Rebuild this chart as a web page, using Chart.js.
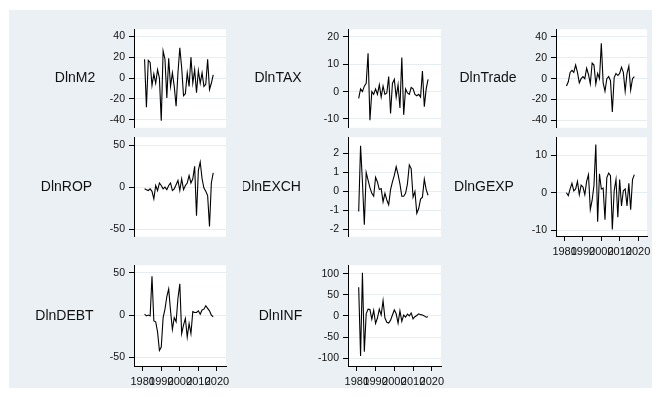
<!DOCTYPE html>
<html>
<head>
<meta charset="utf-8">
<script src="https://cdn.jsdelivr.net/npm/chart.js@4"></script>
<style>
  html, body { margin: 0; padding: 0; background: #ffffff; }
  #wrap { position: relative; width: 660px; height: 397px; overflow: hidden; background: #ffffff; }
  #bg { position: absolute; left: 9px; top: 10px; width: 643px; height: 378px; background: #eaf0f3; }
  #wrap canvas { position: absolute; }
</style>
</head>
<body>
<div id="wrap"><div id="bg"></div></div>
<script>
// Annual first differences of log series, 1981-2018
const years = [1981, 1982, 1983, 1984, 1985, 1986, 1987, 1988, 1989, 1990,
               1991, 1992, 1993, 1994, 1995, 1996, 1997, 1998, 1999, 2000,
               2001, 2002, 2003, 2004, 2005, 2006, 2007, 2008, 2009, 2010,
               2011, 2012, 2013, 2014, 2015, 2016, 2017, 2018];

const dlnM2 = [18, -28, 17, 15, -7, 4, -5, 8, 0, -41, 26, 18, -19, 19, -8, 5, -8, -27, 5, 29,
               10, -17, -15, 5, -8, 20, -5, 8, -14, 7, -5, 5, -8, -6, 18, -11, -5, 3];
const dlnTAX = [-2.5, 1, 0, 2, 3, 14, -10.5, 0, -1, 1, -1, 2.5, -2, 2, -1, -0.5, 5.5, -8, 3, 4.5,
                -2, 2.5, -6, 12.5, -8.5, 1, -0.5, -1, 1.5, 1, -1, -1.5, -1, -2, 7.5, -5.5, 1, 4.5];
const dlnTrade = [-7, -3, 6, 8, 6, 13, 6, -4, 0, 2, 0, 10, 4, -5, 15, 13, -5, 5, 0, 34,
                  -4, -12, 0, 2, -2, -32, 1, 5, 3, 5, 11, 6, -12, 5, 12, -11, 0, 2];
const dlnROP = [-2, -3, -4, -2, -5, -14, 2, -4, 5, 2, -2, 0, -3, 2, 5, -4, -2, 3, 8, -4,
                10, -3, 2, 5, 14, 5, 10, 25, -34, 20, 30, 10, -1, -5, -10, -47, 5, 17];
const dlnEXCH = [-1.05, 2.4, 0.5, -1.75, 1.0, 0.6, 0.2, -0.1, -0.25, 0.75, 0.5, 0.1, 0.15, -0.55, -0.1, -0.45, -0.7, 0.1, 0.5, 0.85,
                 1.3, 0.9, 0.4, -0.25, -0.25, -0.1, 0.4, 1.4, 1.2, -0.3, 0.0, -1.15, -0.9, -0.4, -0.3, 0.65, 0.1, -0.2];
const dlnGEXP = [0, -0.8, 1, 2.5, 0.5, 1, 3, -0.5, 2, 1.5, -0.5, 3, 4.8, -4.5, -2, 2, 12.8, -7.7, 5, 1,
                 1.2, -7.2, 4, 5.2, 4.5, -9.8, 0.5, 3.5, -6.5, 3.5, -3.5, 0.5, 1, -3.5, 2.5, -4.5, 3.5, 4.8];
const dlnDEBT = [1, -1, 0, -1, 46, -7, -8, -20, -42, -38, -3, 7, 22, 31, 5, -17, -3, -8, 20, 37,
                 -22, -12, -4, -26, -10, -22, 4, 3, 3, 5, 1, 6, 7, 11, 8, 5, 0, -2];
const dlnINF = [68, -95, 102, -85, 5, 16, 15, -8, 13, -18, -5, 16, 2, 36, -5, -15, -17, -10, 2, 14,
                5, -17, 12, -13, 2, -3, 4, 0, 7, -7, -2, 1, 5, 3, 2, 0, -3, -2];

// Axis tick labels
const yearTicks = [1980, 1990, 2000, 2010, 2020];
const ticksM2 = [-40, -20, 0, 20, 40];
const ticksTAX = [-10, 0, 10, 20];
const ticksTrade = [-40, -20, 0, 20, 40];
const ticksROP = [-50, 0, 50];
const ticksEXCH = [-2, -1, 0, 1, 2];
const ticksGEXP = [-10, 0, 10];
const ticksDEBT = [-50, 0, 50];
const ticksINF = [-100, -50, 0, 50, 100];

const FONT = '"Liberation Sans", Arial, Helvetica, sans-serif';
const X_RANGE = [1975.3, 2024.9];
const Y_AXIS_W = 105;   // room left of the plot region for tick labels and the side title
const PAD = 10;         // canvas margin above/below the plot region
const PAD_R = 16;       // canvas margin right of the plot region
const X_AXIS_H = 30;    // height of the year axis where it is shown

// Panel layout: plot-region box [left, top, width, height] and side-title offset from the axis
const panels = [
  { name: 'DlnM2',    values: dlnM2,    ticks: ticksM2,    yRange: [-47.6, 46.7],   box: [134, 29, 92, 99],  titleDx: -59,  xAxis: false },
  { name: 'DlnTAX',   values: dlnTAX,   ticks: ticksTAX,   yRange: [-13.2, 22.8],   box: [348, 29, 93, 99],  titleDx: -70,  xAxis: false },
  { name: 'DlnTrade', values: dlnTrade, ticks: ticksTrade, yRange: [-47.0, 47.3],   box: [556, 29, 91, 99],  titleDx: -68,  xAxis: false },
  { name: 'DlnROP',   values: dlnROP,   ticks: ticksROP,   yRange: [-59.1, 59.5],   box: [134, 137, 92, 100], titleDx: -67.5, xAxis: false },
  { name: 'DlnEXCH',  values: dlnEXCH,  ticks: ticksEXCH,  yRange: [-2.38, 2.85],   box: [348, 137, 93, 100], titleDx: -77,  xAxis: false },
  { name: 'DlnGEXP',  values: dlnGEXP,  ticks: ticksGEXP,  yRange: [-11.5, 14.7],   box: [556, 137, 91, 99],  titleDx: -72,  xAxis: true },
  { name: 'DlnDEBT',  values: dlnDEBT,  ticks: ticksDEBT,  yRange: [-60.4, 59.0],   box: [134, 265, 92, 101], titleDx: -69.5, xAxis: true },
  { name: 'DlnINF',   values: dlnINF,   ticks: ticksINF,   yRange: [-118.5, 119.7], box: [348, 265, 93, 101], titleDx: -67.5, xAxis: true }
];

// White plot region behind grid and line
const plotBackground = {
  id: 'plotBackground',
  beforeDraw(chart) {
    const a = chart.chartArea, ctx = chart.ctx;
    ctx.save();
    ctx.fillStyle = '#ffffff';
    ctx.fillRect(a.left, a.top, a.right - a.left, a.bottom - a.top);
    ctx.restore();
  }
};

// Horizontal variable name to the left of the y axis
const sideTitle = {
  id: 'sideTitle',
  afterDraw(chart, args, opts) {
    const a = chart.chartArea, ctx = chart.ctx;
    ctx.save();
    ctx.font = '14px ' + FONT;
    ctx.fillStyle = '#111111';
    ctx.textAlign = 'center';
    ctx.textBaseline = 'middle';
    ctx.fillText(opts.text, a.left + opts.dx, (a.top + a.bottom) / 2);
    ctx.restore();
  }
};

const wrap = document.getElementById('wrap');

panels.forEach(p => {
  const [left, top, w, h] = p.box;
  const cw = Y_AXIS_W + w + PAD_R;
  const ch = PAD + h + (p.xAxis ? X_AXIS_H : PAD);
  const canvas = document.createElement('canvas');
  canvas.width = cw;
  canvas.height = ch;
  canvas.style.width = cw + 'px';
  canvas.style.height = ch + 'px';
  canvas.style.left = (left - Y_AXIS_W) + 'px';
  canvas.style.top = (top - PAD) + 'px';
  wrap.appendChild(canvas);

  new Chart(canvas, {
    type: 'line',
    data: {
      datasets: [{
        data: years.map((yr, i) => ({ x: yr, y: p.values[i] })),
        borderColor: '#000000',
        borderWidth: 1.1,
        pointRadius: 0,
        tension: 0,
        fill: false
      }]
    },
    options: {
      responsive: false,
      animation: false,
      devicePixelRatio: 1,
      events: [],
      layout: { padding: { left: 0, right: PAD_R, top: PAD, bottom: p.xAxis ? 0 : PAD } },
      plugins: {
        legend: { display: false },
        tooltip: { enabled: false },
        sideTitle: { text: p.name, dx: p.titleDx }
      },
      scales: {
        x: {
          type: 'linear',
          position: 'bottom',
          display: p.xAxis,
          min: X_RANGE[0],
          max: X_RANGE[1],
          afterBuildTicks: s => { s.ticks = yearTicks.map(v => ({ value: v })); },
          afterFit: s => { s.height = p.xAxis ? X_AXIS_H : 0; },
          grid: { drawOnChartArea: false, drawTicks: true, tickLength: 5, tickColor: '#000000', tickWidth: 1 },
          border: { display: true, color: '#000000', width: 1 },
          ticks: {
            autoSkip: false, maxRotation: 0, minRotation: 0, padding: 4,
            color: '#111111', font: { family: FONT, size: 11 },
            callback: v => String(v)
          }
        },
        y: {
          type: 'linear',
          position: 'left',
          min: p.yRange[0],
          max: p.yRange[1],
          afterBuildTicks: s => { s.ticks = p.ticks.map(v => ({ value: v })); },
          afterFit: s => { s.width = Y_AXIS_W; },
          grid: { color: '#e6edf0', lineWidth: 1, drawTicks: true, tickLength: 5, tickColor: '#000000', tickWidth: 1 },
          border: { display: true, color: '#000000', width: 1 },
          ticks: {
            padding: 4, color: '#111111', font: { family: FONT, size: 10.5 },
            callback: v => String(v)
          }
        }
      }
    },
    plugins: [plotBackground, sideTitle]
  });
});
</script>
</body>
</html>
